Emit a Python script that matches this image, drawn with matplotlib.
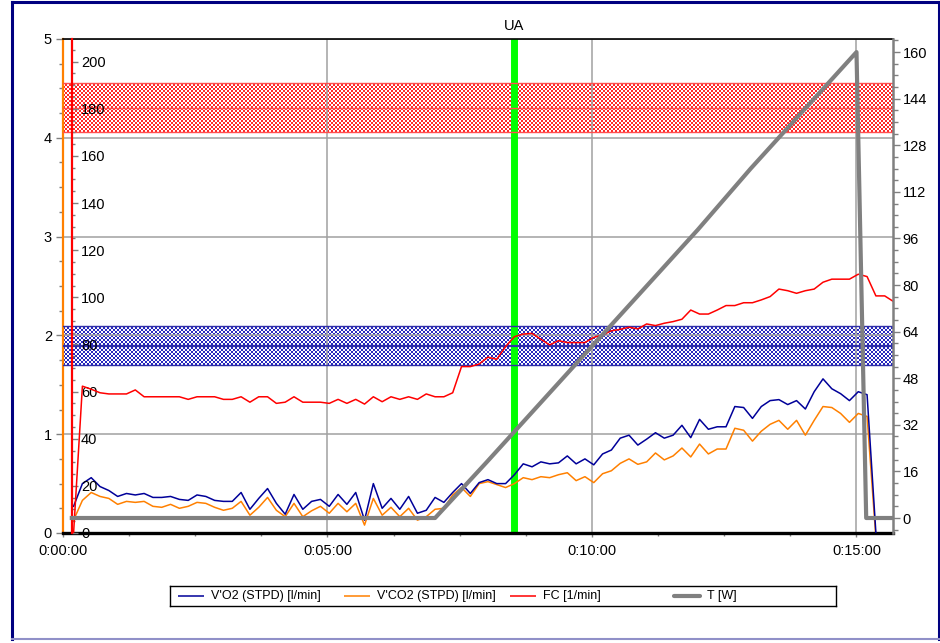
import numpy as np
import matplotlib
matplotlib.use("Agg")
import matplotlib.pyplot as plt
from matplotlib.ticker import MultipleLocator, FuncFormatter
from matplotlib.lines import Line2D

plt.rcParams['font.family'] = ['Liberation Sans', 'DejaVu Sans']

# ---------------- data ----------------
sample_t0 = 12      # time of first averaged sample [s]
sample_dt = 10      # averaging interval [s]

vo2 = [0.27, 0.50, 0.56, 0.47, 0.43, 0.37, 0.40, 0.385, 0.40, 0.36,
       0.36, 0.37, 0.34, 0.33, 0.385, 0.37, 0.33, 0.32, 0.32, 0.41,
       0.24, 0.35, 0.45, 0.30, 0.19, 0.39, 0.24, 0.32, 0.34, 0.27,
       0.39, 0.29, 0.41, 0.13, 0.50, 0.25, 0.35, 0.24, 0.37, 0.20,
       0.23, 0.36, 0.31, 0.41, 0.50, 0.40, 0.51, 0.54, 0.50, 0.50,
       0.59, 0.70, 0.67, 0.72, 0.70, 0.71, 0.78, 0.70, 0.75, 0.69,
       0.80, 0.84, 0.96, 0.99, 0.89, 0.95, 1.015, 0.96, 0.99, 1.09,
       0.965, 1.15, 1.05, 1.075, 1.075, 1.28, 1.27, 1.16, 1.28, 1.34,
       1.35, 1.30, 1.34, 1.255, 1.43, 1.56, 1.46, 1.41, 1.34, 1.43,
       1.40, 0.0]

vco2 = [0.13, 0.33, 0.41, 0.37, 0.35, 0.29, 0.32, 0.31, 0.32, 0.27,
        0.26, 0.29, 0.25, 0.27, 0.31, 0.30, 0.26, 0.23, 0.25, 0.32,
        0.18, 0.26, 0.36, 0.23, 0.165, 0.30, 0.165, 0.225, 0.27, 0.20,
        0.30, 0.215, 0.30, 0.08, 0.35, 0.18, 0.26, 0.165, 0.25, 0.13,
        0.165, 0.24, 0.25, 0.385, 0.46, 0.37, 0.50, 0.52, 0.49, 0.46,
        0.50, 0.56, 0.54, 0.57, 0.56, 0.59, 0.61, 0.53, 0.57, 0.51,
        0.60, 0.63, 0.705, 0.75, 0.695, 0.72, 0.81, 0.74, 0.78, 0.86,
        0.77, 0.90, 0.80, 0.85, 0.85, 1.06, 1.04, 0.93, 1.03, 1.10,
        1.14, 1.05, 1.14, 0.99, 1.14, 1.28, 1.27, 1.21, 1.12, 1.21,
        1.18, -0.05]

fc = [0.0, 62.3, 61.0, 59.5, 59.0, 59.0, 59.0, 60.7, 57.8, 57.8,
      57.8, 57.8, 57.8, 56.7, 57.8, 57.8, 57.8, 56.7, 56.7, 57.8,
      55.5, 57.8, 57.8, 55.0, 55.5, 57.8, 55.5, 55.5, 55.5, 55.0,
      56.7, 55.0, 56.7, 54.7, 57.8, 55.7, 57.8, 56.7, 57.8, 56.7,
      59.0, 57.8, 57.8, 59.5, 70.6, 70.6, 71.7, 74.6, 73.7, 79.1,
      83.3, 84.4, 84.7, 82.2, 79.8, 81.6, 80.8, 80.8, 80.8, 83.0,
      84.0, 85.8, 86.4, 87.3, 86.6, 88.7, 88.0, 89.0, 89.7, 90.7,
      94.6, 92.9, 92.9, 94.6, 96.5, 96.5, 97.7, 97.7, 98.9, 100.3,
      103.5, 102.8, 101.7, 102.8, 103.5, 106.4, 107.7, 107.7, 107.7, 109.8,
      108.8, 100.6, 100.6, 98.2]

load_t = [10, 422, 480, 540, 600, 660, 720, 780, 840, 900, 911, 941]
load_w = [0, 0, 19, 39, 59, 79, 99, 120, 140, 160, 0, 0]

ua_time = 512                      # anaerobic threshold marker [s]
fc_zone_high = (170.0, 190.8, 180.2)   # lower, upper, centre [1/min]
fc_zone_low = (71.3, 87.8, 79.5)

t_end = 941.4
legend_labels = ["V'O2 (STPD) [l/min]", "V'CO2 (STPD) [l/min]", "FC [1/min]", "T [W]"]

t_gas = sample_t0 + sample_dt * np.arange(len(vo2))
t_fc = sample_t0 + sample_dt * np.arange(len(fc))

# ---------------- styling ----------------
C_VO2 = '#000099'
C_VCO2 = '#ff8000'
C_FC = '#ff0000'
C_LOAD = '#808080'
C_GRID = '#a0a0a0'
C_TICK = '#808080'
FS = 10.5

W, H = 940, 643
fig = plt.figure(figsize=(W / 100, H / 100), dpi=100)
fig.patch.set_facecolor('white')

L, R, B, T = 63, 893, 533, 39
ax = fig.add_axes([L / W, 1 - B / H, (R - L) / W, (B - T) / H])
ax_fc = ax.twinx()
ax_w = ax.twinx()
for a in (ax, ax_fc, ax_w):
    a.patch.set_visible(False)

ax.set_xlim(0, t_end)
ax.set_ylim(0, 5)
ax_fc.set_ylim(0, 209.6)
ax_w.set_ylim(-5.15, 164.5)

# spines
ax.spines['left'].set_color(C_VCO2)
ax.spines['left'].set_linewidth(1.6)
ax.spines['top'].set_color('black')
ax.spines['top'].set_linewidth(1.2)
ax.spines['bottom'].set_color('black')
ax.spines['bottom'].set_linewidth(2.4)
ax.spines['right'].set_visible(False)

for s in ('left', 'top', 'bottom'):
    ax_fc.spines[s].set_visible(False)
    ax_w.spines[s].set_visible(False)
ax_fc.spines['right'].set_position(('axes', 9 / (R - L)))
ax_fc.spines['right'].set_color(C_FC)
ax_fc.spines['right'].set_linewidth(1.6)
ax_w.spines['right'].set_color(C_LOAD)
ax_w.spines['right'].set_linewidth(1.8)

# ticks
def hms(v, pos):
    v = int(round(v))
    return f"{v // 3600}:{(v % 3600) // 60:02d}:{v % 60:02d}"

ax.xaxis.set_major_locator(MultipleLocator(300))
ax.xaxis.set_minor_locator(MultipleLocator(75))
ax.xaxis.set_major_formatter(FuncFormatter(hms))
ax.yaxis.set_major_locator(MultipleLocator(1))
ax.yaxis.set_minor_locator(MultipleLocator(0.25))
ax.tick_params(axis='both', which='both', color=C_TICK, labelsize=FS,
               labelcolor='black', width=1)
ax.tick_params(axis='y', which='major', length=5, pad=3)
ax.tick_params(axis='y', which='minor', length=3)
ax.tick_params(axis='x', which='major', length=3, pad=5)
ax.tick_params(axis='x', which='minor', length=2.5)

ax_fc.yaxis.set_major_locator(MultipleLocator(20))
ax_fc.yaxis.set_minor_locator(MultipleLocator(5))
ax_fc.tick_params(axis='y', which='both', color=C_TICK, labelsize=FS,
                  labelcolor='black', width=1)
ax_fc.tick_params(axis='y', which='major', length=4.5, pad=2)
ax_fc.tick_params(axis='y', which='minor', length=2.5)

ax_w.yaxis.set_major_locator(MultipleLocator(16))
ax_w.yaxis.set_minor_locator(MultipleLocator(4))
ax_w.tick_params(axis='y', which='both', color=C_TICK, labelsize=FS,
                 labelcolor='black', width=1)
ax_w.tick_params(axis='y', which='major', length=5, pad=2)
ax_w.tick_params(axis='y', which='minor', length=3.5)

ax.grid(True, which='major', color=C_GRID, linewidth=1.1)

# heart-rate target zones: checker-filled bands placed on the pixel grid
def zone(axis, lo, hi, mid, rgb, edge, mid_lw, cell=2):
    (x0, y0), (x1, y1) = axis.transData.transform([(0, lo), (t_end, hi)])
    xo, yo = int(round(x0)), int(round(y0))
    w, h = int(round(x1)) - xo, int(round(y1)) - yo
    yy, xx = np.mgrid[0:h, 0:w]
    on = ((yy // cell + xx // cell) % 2) == 0
    img = np.ones((h, w, 3))
    img[on] = np.array(rgb) / 255.0
    fig.figimage(img, xo=xo, yo=yo, zorder=-1, origin='lower')
    for v in (lo, hi):
        axis.axhline(v, color=edge, lw=1.0, zorder=1)
    axis.axhline(mid, color=edge, lw=mid_lw, zorder=1)

zone(ax_fc, *fc_zone_high, rgb=(255, 40, 40), edge='#ff5050', mid_lw=1.0)
zone(ax_fc, *fc_zone_low, rgb=(40, 40, 190), edge='#3030a8', mid_lw=1.6)

# threshold marker
ax.axvline(ua_time, color='#00ff00', lw=5, zorder=1.8)
ax.text(ua_time, 1.012, 'UA', transform=ax.get_xaxis_transform(),
        ha='center', va='bottom', fontsize=FS)

# series
ax.plot(t_gas, vco2, color=C_VCO2, lw=1.1, zorder=2.5)
ax.plot(t_gas, vo2, color=C_VO2, lw=1.1, zorder=3)
ax_fc.plot(t_fc, fc, color=C_FC, lw=1.1, zorder=3)
ax_w.plot(load_t, load_w, color=C_LOAD, lw=3.0, zorder=3)

# legend box
leg = fig.add_axes([170 / W, 1 - 606 / H, 666 / W, 20 / H])
leg.set_xlim(0, 666)
leg.set_ylim(0, 1)
leg.set_xticks([])
leg.set_yticks([])
for s in leg.spines.values():
    s.set_color('black')
    s.set_linewidth(1.0)
handle_x = [8, 174, 340, 504]
handle_style = [(C_VO2, 1.1), (C_VCO2, 1.1), (C_FC, 1.1), (C_LOAD, 3.0)]
for hx, (c, lw), lab in zip(handle_x, handle_style, legend_labels):
    leg.add_line(Line2D([hx, hx + 26], [0.5, 0.5], color=c, lw=lw,
                        solid_capstyle='round' if lw > 2 else 'butt'))
    leg.text(hx + 33, 0.5, lab, fontsize=9, va='center', ha='left')

# outer frame
frame = dict(color='#000080', lw=2.2, transform=fig.transFigure)
fig.add_artist(Line2D([11.5 / W, 938.5 / W], [1 - 1.5 / H, 1 - 1.5 / H], **frame))
fig.add_artist(Line2D([11.5 / W, 11.5 / W], [1 - 1.5 / H, 1 - 639 / H], **frame))
fig.add_artist(Line2D([938.5 / W, 938.5 / W], [1 - 1.5 / H, 1 - 639 / H], **frame))
fig.add_artist(Line2D([11.5 / W, 938.5 / W], [1 - 639 / H, 1 - 639 / H],
                      color='#9090c8', lw=1.5, transform=fig.transFigure))

fig.savefig('out.png', dpi=100)
